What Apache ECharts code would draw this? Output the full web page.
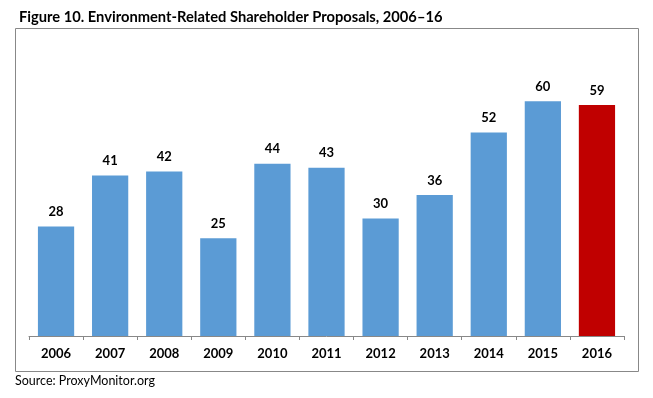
<!DOCTYPE html>
<html><head><meta charset="utf-8">
<script src="https://cdn.jsdelivr.net/npm/echarts@6/dist/echarts.min.js"></script>
<style>html,body{margin:0;padding:0;background:#fff}#c{width:653px;height:398px}</style>
</head><body><div id="c"></div>
<script>
const categories = ['2006','2007','2008','2009','2010','2011','2012','2013','2014','2015','2016'];
const proposals = [28, 41, 42, 25, 44, 43, 30, 36, 52, 60, 59];
const highlightYear = '2016';
const titleText = 'Figure 10. Environment-Related Shareholder Proposals, 2006\u201316';
const sourceText = 'Source: ProxyMonitor.org';
const FONT = 'Lato, "Open Sans", sans-serif';

const chart = echarts.init(document.getElementById('c'), null, {renderer: 'canvas'});
chart.setOption({
  animation: false,
  backgroundColor: '#fff',
  title: {
    text: titleText, left: 14, top: 5,
    textStyle: {fontFamily: FONT, fontWeight: 'bold', fontSize: 14.7, color: '#000'}
  },
  graphic: [
    {type: 'rect', shape: {x: 15.5, y: 28.5, width: 623, height: 343}, style: {fill: 'none', stroke: '#888', lineWidth: 1}, z: -1},
    {type: 'text', left: 15, top: 374, style: {text: sourceText, font: '12.5px ' + FONT, fill: '#000'}}
  ],
  grid: {left: 29, right: 29, top: 62, bottom: 62},
  xAxis: {
    type: 'category', data: categories, boundaryGap: true,
    axisLine: {lineStyle: {color: '#888', width: 1}},
    axisTick: {show: true, length: 4, lineStyle: {color: '#888'}},
    axisLabel: {fontFamily: FONT, fontWeight: 'bold', fontSize: 13, color: '#000', margin: 11}
  },
  yAxis: {type: 'value', min: 0, max: 70, show: false, splitLine: {show: false}},
  series: [{
    type: 'bar',
    data: proposals.map((v, i) => ({value: v, itemStyle: {color: categories[i] === highlightYear ? '#C00000' : '#5B9BD5'}})),
    barCategoryGap: '33%',
    label: {show: true, position: 'top', distance: 8, fontFamily: FONT, fontWeight: 'bold', fontSize: 13, color: '#000'}
  }]
});
</script></body></html>
